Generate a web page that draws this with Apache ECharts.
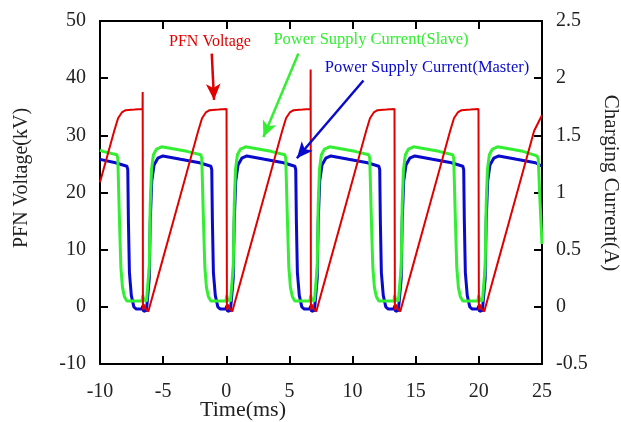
<!DOCTYPE html>
<html lang="en">
<head>
    <meta charset="UTF-8">
    <title>PFN Voltage / Charging Current</title>
    <style>
        html, body { margin: 0; padding: 0; background: #fff; }
        #chart { width: 621px; height: 422px; }
    </style>
</head>
<body>
    <div id="chart"></div>
    <script src="https://cdn.jsdelivr.net/npm/echarts@6/dist/echarts.min.js"></script>
    <script>
        // time (ms) ticks
        var timeTicks = [-10, -5, 0, 5, 10, 15, 20, 25];

        // PFN voltage (kV), [time ms, kV]
        var pfnVoltage = [
            [-10, 21.8], [-8.87, 30.8], [-8.57, 33.0], [-8.27, 34.0], [-7.97, 34.4], [-7.27, 34.5], [-6.63, 34.6],
            [-6.62, 37.6], [-6.60, -0.5], [-6.50, 0.4], [-6.37, -0.4], [-6.17, -0.8], [-6.07, 0.0], [-5.12, 7.6], [-4.12, 15.6], [-3.12, 23.6], [-2.22, 30.8], [-1.92, 33.0], [-1.62, 34.0], [-1.32, 34.4], [-0.62, 34.5], [0.02, 34.6],
            [0.03, 34.8], [0.05, -0.5], [0.15, 0.4], [0.28, -0.4], [0.48, -0.8], [0.58, 0.0], [1.53, 7.6], [2.53, 15.6], [3.53, 23.6], [4.43, 30.8], [4.73, 33.0], [5.03, 34.0], [5.33, 34.4], [6.03, 34.5], [6.67, 34.6],
            [6.68, 41.5], [6.70, -0.5], [6.80, 0.4], [6.93, -0.4], [7.13, -0.8], [7.23, 0.0], [8.18, 7.6], [9.18, 15.6], [10.18, 23.6], [11.08, 30.8], [11.38, 33.0], [11.68, 34.0], [11.98, 34.4], [12.68, 34.5], [13.32, 34.6],
            [13.33, 34.8], [13.35, -0.5], [13.45, 0.4], [13.58, -0.4], [13.78, -0.8], [13.88, 0.0], [14.83, 7.6], [15.83, 15.6], [16.83, 23.6], [17.73, 30.8], [18.03, 33.0], [18.33, 34.0], [18.63, 34.4], [19.33, 34.5], [19.97, 34.6],
            [19.98, 34.8], [20.00, -0.5], [20.10, 0.4], [20.23, -0.4], [20.43, -0.8], [20.53, 0.0], [21.48, 7.6], [22.48, 15.6], [23.48, 23.6], [24.38, 30.8], [25.0, 33.5]
        ];

        // power supply current, slave (A)
        var currentSlave = [
            [-10, 1.37], [-9.77, 1.36], [-8.67, 1.33], [-8.59, 1.30], [-8.47, 0.80], [-8.35, 0.35], [-8.22, 0.17], [-8.07, 0.09], [-7.87, 0.05], [-7.27, 0.05], [-6.67, 0.05],
            [-6.62, 0.10], [-6.52, 0.06], [-6.32, 0.05], [-6.17, 0.05], [-6.10, 0.35], [-6.02, 0.9], [-5.92, 1.2], [-5.77, 1.33], [-5.52, 1.38], [-5.12, 1.40], [-4.12, 1.38], [-3.12, 1.36], [-2.02, 1.33], [-1.94, 1.30], [-1.82, 0.80], [-1.70, 0.35], [-1.57, 0.17], [-1.42, 0.09], [-1.22, 0.05], [-0.62, 0.05], [-0.02, 0.05],
            [0.03, 0.10], [0.13, 0.06], [0.33, 0.05], [0.48, 0.05], [0.55, 0.35], [0.63, 0.9], [0.73, 1.2], [0.88, 1.33], [1.13, 1.38], [1.53, 1.40], [2.53, 1.38], [3.53, 1.36], [4.63, 1.33], [4.71, 1.30], [4.83, 0.80], [4.95, 0.35], [5.08, 0.17], [5.23, 0.09], [5.43, 0.05], [6.03, 0.05], [6.63, 0.05],
            [6.68, 0.10], [6.78, 0.06], [6.98, 0.05], [7.13, 0.05], [7.20, 0.35], [7.28, 0.9], [7.38, 1.2], [7.53, 1.33], [7.78, 1.38], [8.18, 1.40], [9.18, 1.38], [10.18, 1.36], [11.28, 1.33], [11.36, 1.30], [11.48, 0.80], [11.60, 0.35], [11.73, 0.17], [11.88, 0.09], [12.08, 0.05], [12.68, 0.05], [13.28, 0.05],
            [13.33, 0.10], [13.43, 0.06], [13.63, 0.05], [13.78, 0.05], [13.85, 0.35], [13.93, 0.9], [14.03, 1.2], [14.18, 1.33], [14.43, 1.38], [14.83, 1.40], [15.83, 1.38], [16.83, 1.36], [17.93, 1.33], [18.01, 1.30], [18.13, 0.80], [18.25, 0.35], [18.38, 0.17], [18.53, 0.09], [18.73, 0.05], [19.33, 0.05], [19.93, 0.05],
            [19.98, 0.10], [20.08, 0.06], [20.28, 0.05], [20.43, 0.05], [20.50, 0.35], [20.58, 0.9], [20.68, 1.2], [20.83, 1.33], [21.08, 1.38], [21.48, 1.40], [22.48, 1.38], [23.48, 1.36], [24.60, 1.32], [24.70, 1.30], [24.85, 0.9], [25.0, 0.55]
        ];

        // power supply current, master (A)
        var currentMaster = [
            [-10, 1.29], [-8.77, 1.26], [-7.87, 1.23], [-7.80, 1.20], [-7.75, 0.75], [-7.67, 0.30], [-7.52, 0.10], [-7.32, 0.00], [-7.12, -0.02], [-6.67, -0.02],
            [-6.62, 0.01], [-6.54, -0.04], [-6.32, -0.03], [-6.17, -0.03], [-6.10, 0.25], [-6.02, 0.75], [-5.90, 1.1], [-5.72, 1.24], [-5.42, 1.30], [-5.02, 1.32], [-3.62, 1.29], [-2.12, 1.26], [-1.22, 1.23], [-1.15, 1.20], [-1.10, 0.75], [-1.02, 0.30], [-0.87, 0.10], [-0.67, 0.00], [-0.47, -0.02], [-0.02, -0.02],
            [0.03, 0.01], [0.11, -0.04], [0.33, -0.03], [0.48, -0.03], [0.55, 0.25], [0.63, 0.75], [0.75, 1.1], [0.93, 1.24], [1.23, 1.30], [1.63, 1.32], [3.03, 1.29], [4.53, 1.26], [5.43, 1.23], [5.50, 1.20], [5.55, 0.75], [5.63, 0.30], [5.78, 0.10], [5.98, 0.00], [6.18, -0.02], [6.63, -0.02],
            [6.68, 0.01], [6.76, -0.04], [6.98, -0.03], [7.13, -0.03], [7.20, 0.25], [7.28, 0.75], [7.40, 1.1], [7.58, 1.24], [7.88, 1.30], [8.28, 1.32], [9.68, 1.29], [11.18, 1.26], [12.08, 1.23], [12.15, 1.20], [12.20, 0.75], [12.28, 0.30], [12.43, 0.10], [12.63, 0.00], [12.83, -0.02], [13.28, -0.02],
            [13.33, 0.01], [13.41, -0.04], [13.63, -0.03], [13.78, -0.03], [13.85, 0.25], [13.93, 0.75], [14.05, 1.1], [14.23, 1.24], [14.53, 1.30], [14.93, 1.32], [16.33, 1.29], [17.83, 1.26], [18.73, 1.23], [18.80, 1.20], [18.85, 0.75], [18.93, 0.30], [19.08, 0.10], [19.28, 0.00], [19.48, -0.02], [19.93, -0.02],
            [19.98, 0.01], [20.06, -0.04], [20.28, -0.03], [20.43, -0.03], [20.50, 0.25], [20.58, 0.75], [20.70, 1.1], [20.88, 1.24], [21.18, 1.30], [21.58, 1.32], [22.98, 1.29], [24.48, 1.26], [25.0, 1.23]
        ];

        // annotation arrows, [time ms, kV] start -> tip
        var arrowPFN = [[-1.15, 44.3], [-0.97, 36.2]];
        var arrowSlave = [[5.71, 44.3], [2.94, 29.7]];
        var arrowMaster = [[10.86, 39.6], [5.59, 26.0]];

        var RED = '#e00000', GREEN = '#33ee33', BLUE = '#0a0acc';
        var FONT = 'Liberation Serif';

        function boxAxis(extra) {
            var a = {
                axisLine: { show: true, onZero: false, lineStyle: { color: '#000', width: 2 } },
                axisTick: { show: true, inside: true, length: 8, lineStyle: { color: '#000', width: 2 } },
                splitLine: { show: false },
                axisLabel: { color: '#222', fontFamily: FONT, fontSize: 20 }
            };
            for (var k in extra) a[k] = extra[k];
            return a;
        }

        function arrowLine(pts, color) {
            return [
                { coord: pts[0], lineStyle: { color: color, width: 2.5, type: 'solid' } },
                { coord: pts[1] }
            ];
        }

        var chart = echarts.init(document.getElementById('chart'), null, { renderer: 'canvas' });

        chart.setOption({
            animation: false,
            backgroundColor: '#fff',
            grid: { left: 100, right: 79, top: 21, bottom: 58 },
            xAxis: [
                boxAxis({
                    type: 'value', position: 'bottom', min: timeTicks[0], max: timeTicks[timeTicks.length - 1], interval: 5,
                    axisLabel: { color: '#222', fontFamily: FONT, fontSize: 20, margin: 18 }
                }),
                boxAxis({
                    type: 'value', position: 'top', min: timeTicks[0], max: timeTicks[timeTicks.length - 1], interval: 5,
                    axisLabel: { show: false }
                })
            ],
            yAxis: [
                boxAxis({
                    type: 'value', position: 'left', min: -10, max: 50, interval: 10,
                    axisLabel: { color: '#222', fontFamily: FONT, fontSize: 20, margin: 14 }
                }),
                boxAxis({
                    type: 'value', position: 'right', min: -0.5, max: 2.5, interval: 0.5,
                    axisLabel: { color: '#222', fontFamily: FONT, fontSize: 20, margin: 14 }
                })
            ],
            series: [
                {
                    name: 'Power Supply Current(Master)', type: 'line', xAxisIndex: 0, yAxisIndex: 1,
                    data: currentMaster, showSymbol: false, symbol: 'none',
                    lineStyle: { color: BLUE, width: 3 }, z: 2
                },
                {
                    name: 'Power Supply Current(Slave)', type: 'line', xAxisIndex: 0, yAxisIndex: 1,
                    data: currentSlave, showSymbol: false, symbol: 'none',
                    lineStyle: { color: GREEN, width: 3 }, z: 3
                },
                {
                    name: 'PFN Voltage', type: 'line', xAxisIndex: 0, yAxisIndex: 0,
                    data: pfnVoltage, showSymbol: false, symbol: 'none',
                    lineStyle: { color: RED, width: 2 }, z: 4,
                    markLine: {
                        silent: true,
                        symbol: ['none', 'arrow'],
                        symbolSize: [11, 16],
                        label: { show: false },
                        data: [
                            arrowLine(arrowPFN, RED),
                            arrowLine(arrowSlave, GREEN),
                            arrowLine(arrowMaster, BLUE)
                        ]
                    }
                }
            ],
            graphic: [
                {
                    type: 'text', rotation: Math.PI / 2, x: 22, y: 178,
                    style: { text: 'PFN Voltage(kV)', font: '20px "Liberation Serif"', fill: '#222', textAlign: 'center', textVerticalAlign: 'middle' }
                },
                {
                    type: 'text', rotation: -Math.PI / 2, x: 611, y: 183,
                    style: { text: 'Charging Current(A)', font: '21px "Liberation Serif"', fill: '#222', textAlign: 'center', textVerticalAlign: 'middle' }
                },
                {
                    type: 'text', x: 243, y: 410,
                    style: { text: 'Time(ms)', font: '22px "Liberation Serif"', fill: '#222', textAlign: 'center', textVerticalAlign: 'middle' }
                },
                {
                    type: 'text', x: 210, y: 42,
                    style: { text: 'PFN Voltage', font: '16px "Liberation Serif"', fill: RED, textAlign: 'center', textVerticalAlign: 'middle' }
                },
                {
                    type: 'text', x: 371, y: 40,
                    style: { text: 'Power Supply Current(Slave)', font: '16.5px "Liberation Serif"', fill: GREEN, textAlign: 'center', textVerticalAlign: 'middle' }
                },
                {
                    type: 'text', x: 427, y: 68,
                    style: { text: 'Power Supply Current(Master)', font: '16.5px "Liberation Serif"', fill: BLUE, textAlign: 'center', textVerticalAlign: 'middle' }
                }
            ]
        });
    </script>
</body>
</html>
